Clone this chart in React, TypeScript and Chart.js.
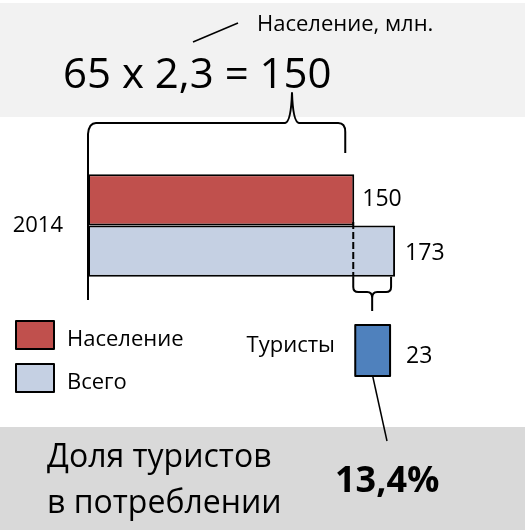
import React, { useEffect, useRef } from "react";
import { Chart, registerables } from "chart.js";

Chart.register(...registerables);

const years = ["2014"];
const seriesNames = ["Население", "Всего"];
const population = [150];
const total = [173];
const tourists = [23];
const tourLabel = "Туристы";
const formulaText = "65 x 2,3 = 150";
const unitText = "Население, млн.";
const shareLines = ["Доля туристов", "в потреблении"];
const shareValue = "13,4%";

const FONT = "'Open Sans', sans-serif";
const RED = "#c0504d";
const LIGHT = "#c5d0e3";
const BLUE = "#4f81bd";

const overlay = {
  id: "overlay",
  beforeDraw(chart: any) {
    const { ctx, width } = chart;
    ctx.save();
    ctx.fillStyle = "#f2f2f2";
    ctx.fillRect(0, 3, width, 114);
    ctx.fillStyle = "#d9d9d9";
    ctx.fillRect(0, 427, width, 103);
    ctx.restore();
  },
  afterDatasetsDraw(chart: any) {
    const { ctx } = chart;
    const xs = chart.scales.x;
    const x0 = xs.getPixelForValue(0);
    const xp = xs.getPixelForValue(population[0]);
    const xt = xs.getPixelForValue(total[0]);
    const m0 = chart.getDatasetMeta(0).data[0] as any;
    const m1 = chart.getDatasetMeta(1).data[0] as any;
    ctx.save();
    ctx.strokeStyle = "#000";
    ctx.fillStyle = "#000";
    ctx.lineJoin = "round";

    // top texts
    ctx.textBaseline = "alphabetic";
    ctx.textAlign = "left";
    ctx.font = `22px ${FONT}`;
    ctx.fillText(unitText, 257, 31);
    ctx.lineWidth = 1.5;
    ctx.beginPath();
    ctx.moveTo(193, 42);
    ctx.lineTo(238, 23);
    ctx.stroke();
    ctx.font = `42px ${FONT}`;
    ctx.fillText(formulaText, 63, 88);

    // big brace
    const L = x0, R = xp - 9, C = 292;
    ctx.lineWidth = 2;
    ctx.beginPath();
    ctx.moveTo(L, 153);
    ctx.lineTo(L, 134);
    ctx.quadraticCurveTo(L + 1, 123, L + 8, 123);
    ctx.lineTo(C - 7, 123);
    ctx.quadraticCurveTo(C - 1, 122, C, 93);
    ctx.quadraticCurveTo(C + 1, 122, C + 7, 123);
    ctx.lineTo(R - 7, 123);
    ctx.quadraticCurveTo(R, 123, R, 132);
    ctx.lineTo(R, 153);
    ctx.stroke();

    // dashed line
    ctx.setLineDash([7, 3]);
    ctx.beginPath();
    ctx.moveTo(xp - 1, m0.y + 22);
    ctx.lineTo(xp - 1, m1.y + m1.height / 2);
    ctx.stroke();
    ctx.setLineDash([]);

    // value labels
    ctx.font = `23px ${FONT}`;
    ctx.textBaseline = "middle";
    ctx.fillText(String(population[0]), m0.x + 8, m0.y);
    ctx.fillText(String(total[0]), m1.x + 10, m1.y + 2);

    // small brace
    const sl = xp - 1, sr = xt - 4, sc = (sl + sr) / 2, top = m1.y + m1.height / 2;
    ctx.beginPath();
    ctx.moveTo(sl, top);
    ctx.lineTo(sl, 287);
    ctx.quadraticCurveTo(sl, 292, sl + 5, 292);
    ctx.lineTo(sc - 5, 292);
    ctx.quadraticCurveTo(sc, 292, sc, 298);
    ctx.lineTo(sc, 311);
    ctx.moveTo(sc, 298);
    ctx.quadraticCurveTo(sc, 292, sc + 5, 292);
    ctx.lineTo(sr - 5, 292);
    ctx.quadraticCurveTo(sr, 292, sr, 287);
    ctx.lineTo(sr, top);
    ctx.stroke();

    // tourists bar
    const tl = xp + 1, tr = xs.getPixelForValue(population[0] + tourists[0]) - 5;
    ctx.fillStyle = BLUE;
    ctx.fillRect(tl, 325, tr - tl, 51);
    ctx.strokeRect(tl, 325, tr - tl, 51);
    ctx.fillStyle = "#000";
    ctx.font = `23px ${FONT}`;
    ctx.fillText(String(tourists[0]), tr + 16, 356);
    ctx.font = `22px ${FONT}`;
    ctx.textAlign = "right";
    ctx.fillText(tourLabel, 335, 346);
    ctx.textAlign = "left";
    ctx.lineWidth = 1.5;
    ctx.beginPath();
    ctx.moveTo((tl + tr) / 2, 376);
    ctx.lineTo(387, 441);
    ctx.stroke();

    // legend
    ctx.lineWidth = 2;
    ctx.textBaseline = "alphabetic";
    chart.data.datasets.forEach((ds: any, i: number) => {
      const y = 321 + i * 43;
      ctx.fillStyle = ds.backgroundColor;
      ctx.fillRect(16, y, 38, 28);
      ctx.strokeRect(16, y, 38, 28);
      ctx.fillStyle = "#000";
      ctx.font = `22px ${FONT}`;
      ctx.fillText(ds.label, 67, y + 25);
    });

    // bottom texts
    ctx.font = `32px ${FONT}`;
    ctx.fillText(shareLines[0], 47, 467);
    ctx.fillText(shareLines[1], 47, 513);
    ctx.font = `bold 36px ${FONT}`;
    ctx.fillText(shareValue, 335, 492);
    ctx.restore();
  },
};

export default function App() {
  const ref = useRef<HTMLCanvasElement | null>(null);
  useEffect(() => {
    if (!ref.current) return;
    const chart = new Chart(ref.current, {
      type: "bar",
      data: {
        labels: years,
        datasets: [
          {
            label: seriesNames[0],
            data: population,
            backgroundColor: RED,
            borderColor: "#000",
            borderWidth: 2,
            borderSkipped: false,
            categoryPercentage: 0.696,
            barPercentage: 1,
          },
          {
            label: seriesNames[1],
            data: total,
            backgroundColor: LIGHT,
            borderColor: "#000",
            borderWidth: 2,
            borderSkipped: false,
            categoryPercentage: 0.696,
            barPercentage: 1,
          },
        ],
      },
      options: {
        indexAxis: "y",
        responsive: false,
        animation: false,
        layout: { padding: { left: 0, right: 11, top: 152, bottom: 231 } },
        plugins: { legend: { display: false }, tooltip: { enabled: false } },
        scales: {
          x: { display: false, min: 0, max: 240 },
          y: {
            grid: { display: false },
            border: { display: true, color: "#000", width: 2 },
            ticks: { color: "#000", font: { family: FONT, size: 22 }, padding: 17 },
            afterFit: (s: any) => {
              s.width = 88;
            },
          },
        },
      } as any,
      plugins: [overlay],
    });
    return () => chart.destroy();
  }, []);
  return (
    <div style={{ position: "absolute", left: 0, top: 0, width: 525, height: 530 }}>
      <canvas ref={ref} width={525} height={530} style={{ width: 525, height: 530 }} />
    </div>
  );
}
